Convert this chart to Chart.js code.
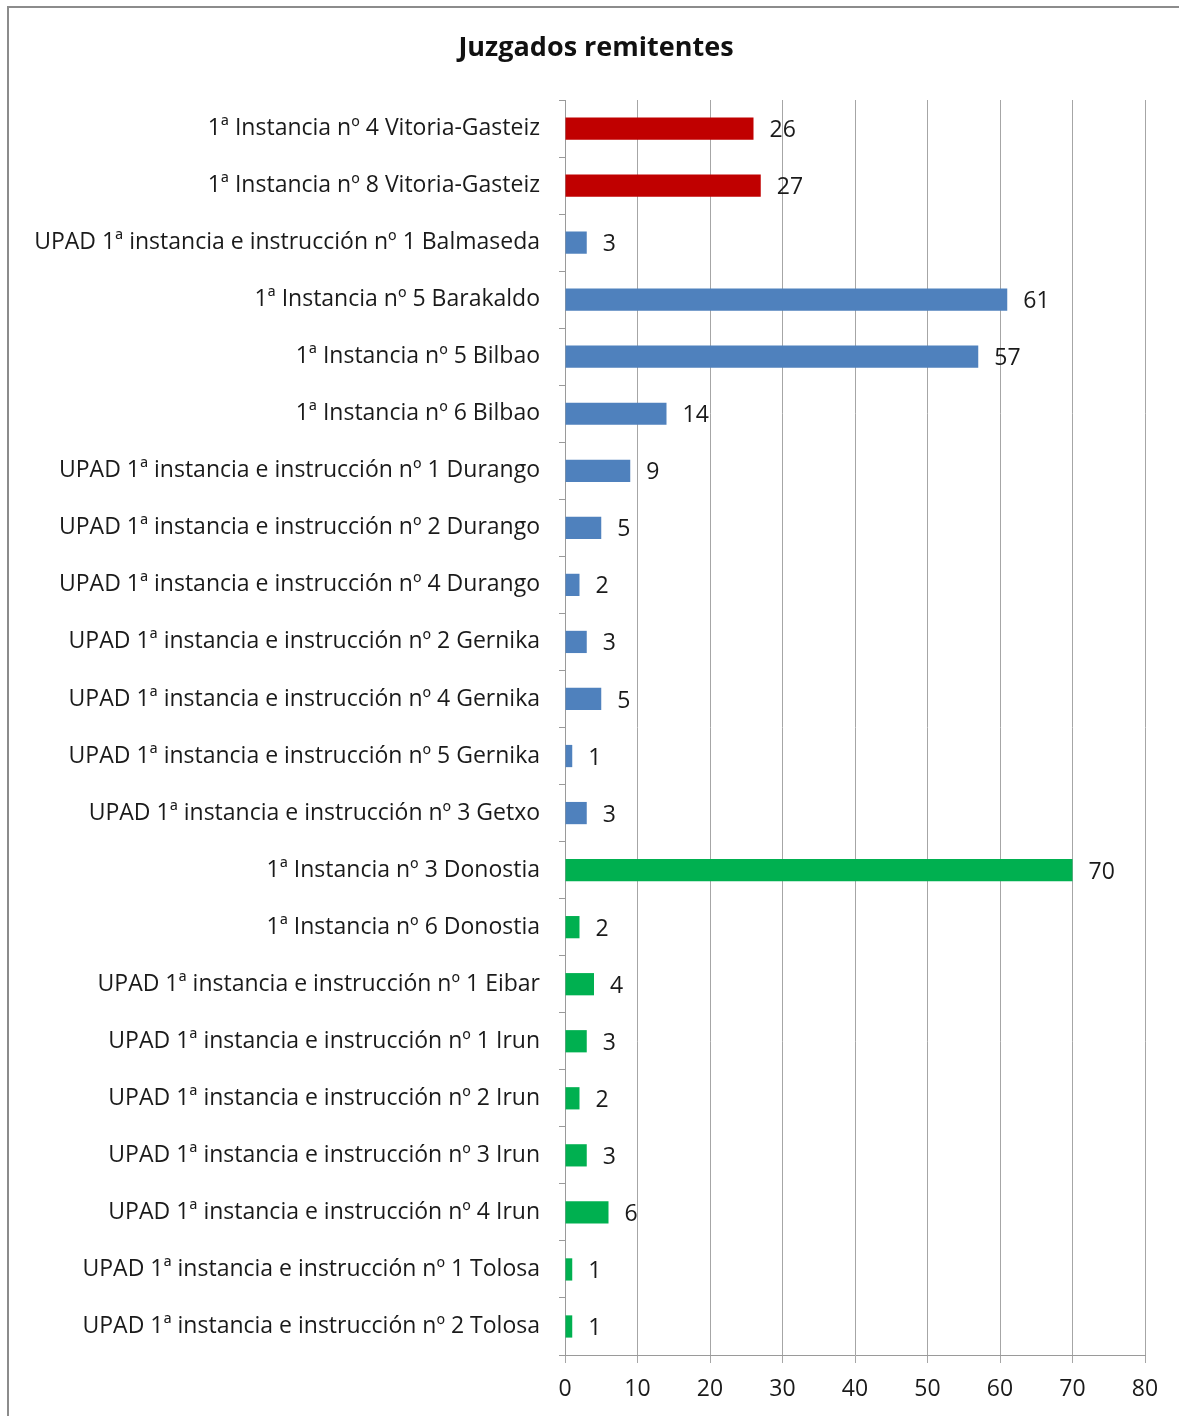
<!DOCTYPE html>
<html>
<head>
<meta charset="utf-8">
<script src="https://cdn.jsdelivr.net/npm/chart.js@4.4.0/dist/chart.umd.min.js"></script>
<style>
  html, body { margin: 0; padding: 0; background: #fff; }
  #wrap { position: relative; width: 1179px; height: 1416px; overflow: hidden; }
  #frame { position: absolute; left: 7px; top: 6px; width: 1250px; height: 1450px; border: 2px solid #8c8c8c; pointer-events: none; }
  canvas { position: absolute; left: 0; top: 0; }
</style>
</head>
<body>
<div id="wrap">
  <canvas id="c" width="1179" height="1416"></canvas>
  <div id="frame"></div>
</div>
<script>
const title = "Juzgados remitentes";
const categories = [
  "1ª Instancia nº 4 Vitoria-Gasteiz",
  "1ª Instancia nº 8 Vitoria-Gasteiz",
  "UPAD 1ª instancia e instrucción nº 1 Balmaseda",
  "1ª Instancia nº 5 Barakaldo",
  "1ª Instancia nº 5 Bilbao",
  "1ª Instancia nº 6 Bilbao",
  "UPAD 1ª instancia e instrucción nº 1 Durango",
  "UPAD 1ª instancia e instrucción nº 2 Durango",
  "UPAD 1ª instancia e instrucción nº 4 Durango",
  "UPAD 1ª instancia e instrucción nº 2 Gernika",
  "UPAD 1ª instancia e instrucción nº 4 Gernika",
  "UPAD 1ª instancia e instrucción nº 5 Gernika",
  "UPAD 1ª instancia e instrucción nº 3 Getxo",
  "1ª Instancia nº 3 Donostia",
  "1ª Instancia nº 6 Donostia",
  "UPAD 1ª instancia e instrucción nº 1 Eibar",
  "UPAD 1ª instancia e instrucción nº 1 Irun",
  "UPAD 1ª instancia e instrucción nº 2 Irun",
  "UPAD 1ª instancia e instrucción nº 3 Irun",
  "UPAD 1ª instancia e instrucción nº 4 Irun",
  "UPAD 1ª instancia e instrucción nº 1 Tolosa",
  "UPAD 1ª instancia e instrucción nº 2 Tolosa"
];
const values = [26, 27, 3, 61, 57, 14, 9, 5, 2, 3, 5, 1, 3, 70, 2, 4, 3, 2, 3, 6, 1, 1];
const provinces = ["Araba","Araba","Bizkaia","Bizkaia","Bizkaia","Bizkaia","Bizkaia","Bizkaia","Bizkaia","Bizkaia","Bizkaia","Bizkaia","Bizkaia",
  "Gipuzkoa","Gipuzkoa","Gipuzkoa","Gipuzkoa","Gipuzkoa","Gipuzkoa","Gipuzkoa","Gipuzkoa","Gipuzkoa"];
const xTicks = [0, 10, 20, 30, 40, 50, 60, 70, 80];

const provinceColors = { Araba: "#C00000", Bizkaia: "#4F81BD", Gipuzkoa: "#00B050" };
const FONT = "'Open Sans', Lato, sans-serif";

const valueLabels = {
  id: "valueLabels",
  afterDatasetsDraw(chart) {
    const ctx = chart.ctx;
    const meta = chart.getDatasetMeta(0);
    ctx.save();
    ctx.font = "23px " + FONT;
    ctx.fillStyle = "#1a1a1a";
    ctx.textAlign = "left";
    ctx.textBaseline = "middle";
    meta.data.forEach((bar, i) => {
      ctx.fillText(String(values[i]), bar.x + 16, bar.y + 2);
    });
    ctx.restore();
  }
};

const titleDraw = {
  id: "titleDraw",
  afterDraw(chart) {
    const ctx = chart.ctx;
    ctx.save();
    ctx.font = "bold 27px " + FONT;
    ctx.fillStyle = "#111";
    ctx.textAlign = "center";
    ctx.textBaseline = "middle";
    ctx.fillText(title, 596, 48);
    ctx.restore();
  }
};

new Chart(document.getElementById("c"), {
  type: "bar",
  data: {
    labels: categories,
    datasets: [{
      data: values,
      backgroundColor: provinces.map(p => provinceColors[p]),
      borderWidth: 0,
      categoryPercentage: 1,
      barPercentage: 0.39
    }]
  },
  options: {
    indexAxis: "y",
    responsive: false,
    animation: false,
    layout: { padding: { left: 0, right: 34, top: 100, bottom: 0 } },
    plugins: {
      legend: { display: false },
      tooltip: { enabled: false },
      title: { display: false }
    },
    scales: {
      x: {
        min: 0, max: 80,
        afterBuildTicks(scale) { scale.ticks = xTicks.map(v => ({ value: v })); },
        afterFit(scale) { scale.height = 61; },
        border: { display: true, color: "#9a9a9a", width: 1 },
        grid: { display: true, color: "#a6a6a6", lineWidth: 1, drawOnChartArea: true, drawTicks: true, tickLength: 8 },
        ticks: { color: "#1a1a1a", font: { family: FONT, size: 23 }, padding: 13, maxRotation: 0 }
      },
      y: {
        afterFit(scale) { scale.width = 565; },
        border: { display: true, color: "#9a9a9a", width: 1 },
        grid: { display: true, color: "#9a9a9a", offset: true, drawOnChartArea: false, drawTicks: true, tickLength: 6 },
        ticks: { color: "#1a1a1a", font: { family: FONT, size: 23 }, padding: 19, autoSkip: false }
      }
    }
  },
  plugins: [valueLabels, titleDraw]
});
</script>
</body>
</html>
